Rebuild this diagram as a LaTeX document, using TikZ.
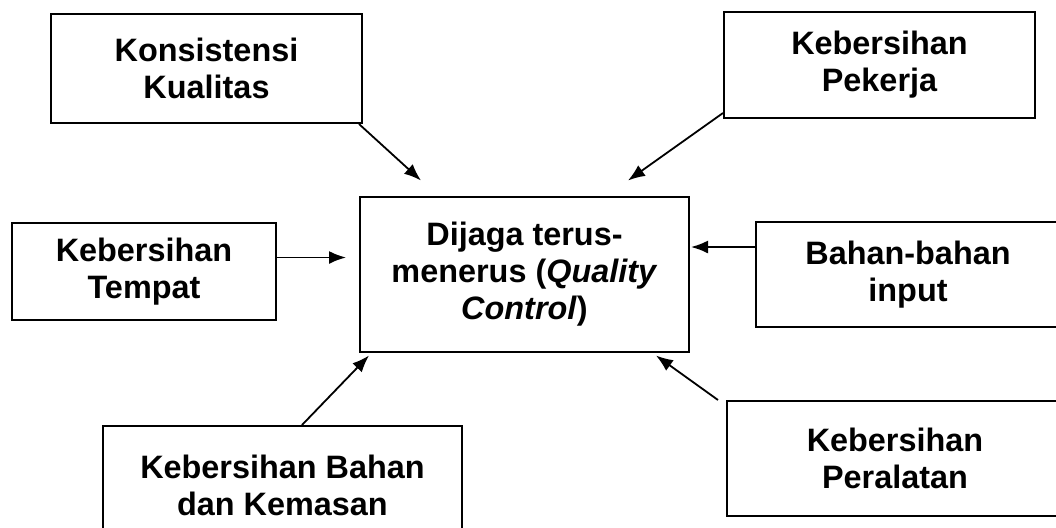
\documentclass[tikz,border=0pt]{standalone}
\usepackage{fontspec}
\setmainfont{Liberation Sans}
\usetikzlibrary{arrows.meta}
\begin{document}
\begin{tikzpicture}[x=0.5pt,y=-0.5pt]
    \tikzstyle{box}=[rectangle,draw=black,line width=1pt,align=center,inner sep=0pt,font=\fontsize{16.2}{18.4}\selectfont\bfseries]
    \tikzstyle{arr}=[-{Latex[length=8.5pt,width=6.5pt]},line width=0.9pt]

    \useasboundingbox (0,0) rectangle (1056,527);

    \node[box,minimum width=155.5pt,minimum height=54.5pt](kons) at (206.5,68.5){Konsistensi\\Kualitas};
    \node[box,minimum width=155.5pt,minimum height=53pt](pekerja) at (879.5,65){Kebersihan\\Pekerja};
    \node[box,minimum width=132pt,minimum height=48.5pt](tempat) at (144,271.5){Kebersihan\\Tempat};
    \node[box,minimum width=164.5pt,minimum height=77.5pt](dijaga) at (524.5,274){Dijaga terus-\\menerus (\textit{Quality}\\\textit{Control})};
    \node[box,minimum width=152pt,minimum height=52.5pt](input) at (908,274.5){Bahan-bahan\\input};
    \node[box,minimum width=179.5pt,minimum height=59.5pt](kemasan) at (282.5,485.5){Kebersihan Bahan\\dan Kemasan};
    \node[box,minimum width=168pt,minimum height=57.5pt](peralatan) at (895,458.5){Kebersihan\\Peralatan};

    \draw[arr] ([xshift=-2pt]kons.south east) -- ([xshift=31pt,yshift=7.5pt]dijaga.north west);
    \draw[arr] ([yshift=3pt]pekerja.south west) -- ([xshift=-31pt,yshift=7.5pt]dijaga.north east);
    \draw[arr,shorten >=6.5pt] ([yshift=7pt]tempat.east) -- ([yshift=7pt]tempat.east -| dijaga.west);
    \draw[arr,shorten >=0.5pt] ([yshift=13.75pt]input.west) -- ([yshift=13.75pt]input.west -| dijaga.east);
    \draw[arr] ([xshift=100pt]kemasan.north west) -- ([xshift=5pt,yshift=-1.5pt]dijaga.south west);
    \draw[arr] ([xshift=-4pt]peralatan.north west) -- ([xshift=-17pt,yshift=-1.5pt]dijaga.south east);
\end{tikzpicture}
\end{document}
